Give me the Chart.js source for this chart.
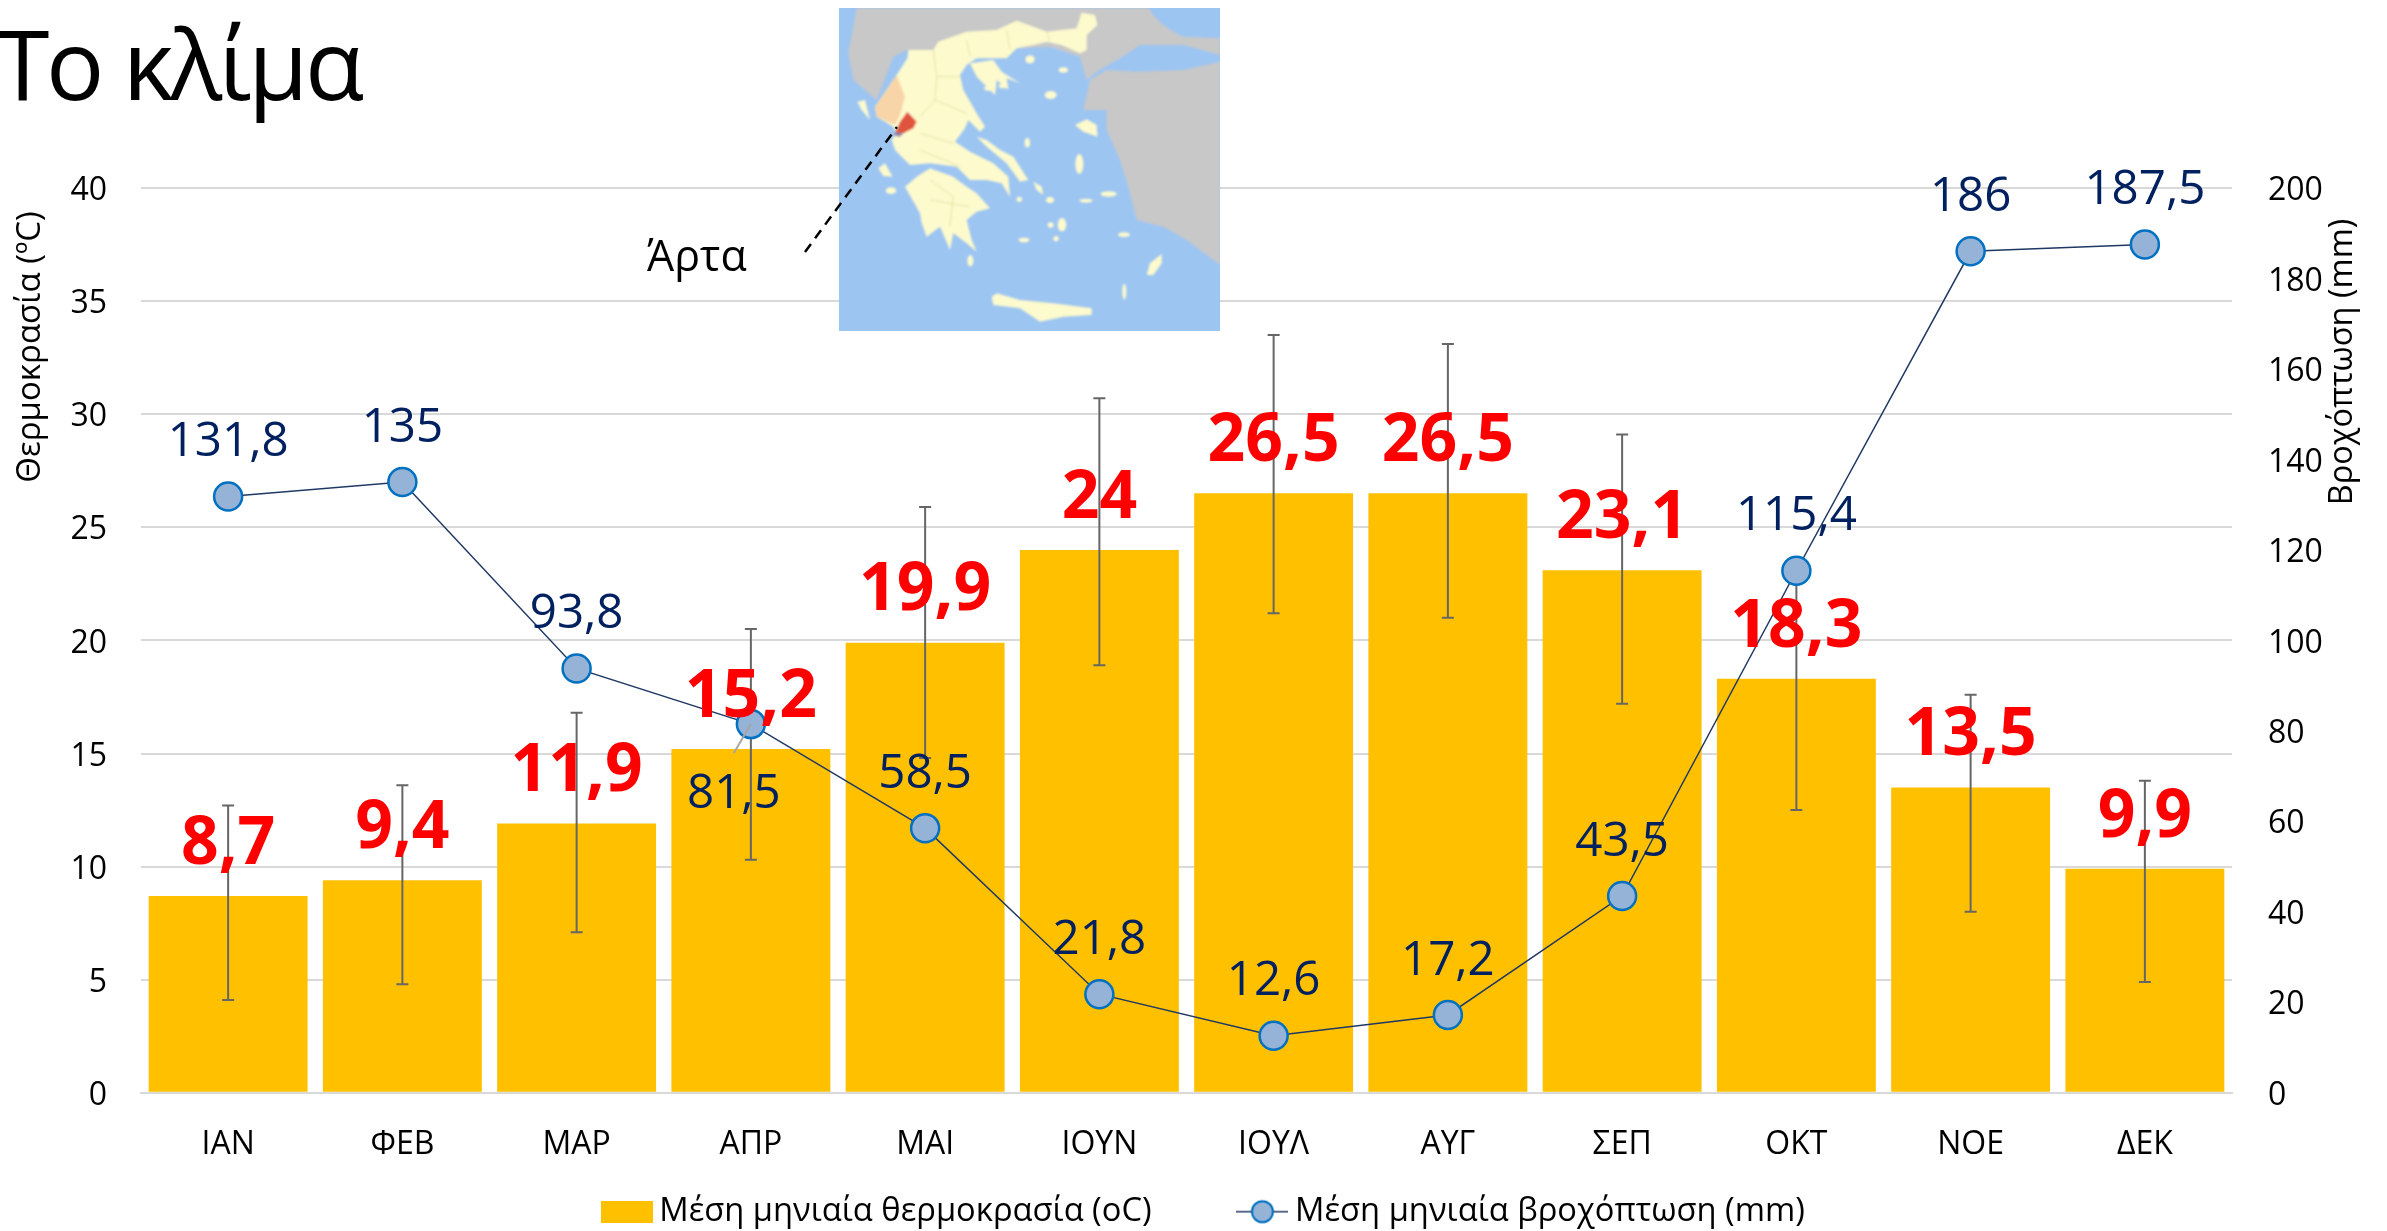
<!DOCTYPE html>
<html lang="el">
<head>
<meta charset="utf-8">
<title>Το κλίμα</title>
<script src="https://cdn.jsdelivr.net/npm/chart.js@4"></script>
<style>
    html, body { margin: 0; padding: 0; background: #fff; overflow: hidden; }
    #wrap { position: relative; width: 2387px; height: 1231px; font-family: "Open Sans", sans-serif; }
    #climate { position: absolute; left: 0; top: 0; }
    #title { position: absolute; left: -4px; top: -4px; font-size: 97px; font-weight: 400; letter-spacing: -3.4px; line-height: 133px; color: #000; }
    #place { position: absolute; left: 647px; top: 226px; font-size: 43px; line-height: 58px; color: #000; }
    #map { position: absolute; left: 839px; top: 8px; }
    #leader { position: absolute; left: 790px; top: 110px; }
</style>
</head>
<body>
<div id="wrap">
    <canvas id="climate" width="2387" height="1231"></canvas>
    <div id="title">Το κλίμα</div>
    <div id="place">Άρτα</div>

    <!-- Greece locator map, hand traced -->
    <svg id="map" width="381" height="323" viewBox="57 24 1143 969">
        <defs><filter id="soft"><feGaussianBlur stdDeviation="3"/></filter></defs>
        <rect x="57" y="24" width="1143" height="969" fill="#9DC5F2"/>
        <g filter="url(#soft)">
            <path fill="#C8C8C8" d="M110,24 L985,24 Q1020,80 1090,110 L1200,115 L1200,165 L1090,135 L960,135 L900,175 L830,215 L800,240 L780,170 L690,140 L500,150 L260,150 L220,170 L170,300 L100,240 L85,160 Z"/>
            <path fill="#C8C8C8" d="M1200,185 L1090,210 L950,215 L860,210 L810,240 L790,330 L860,330 L860,390 L900,480 L925,560 L950,660 L1030,680 L1100,720 L1200,795 Z"/>
            <path fill="#FDFACD" d="M165,320 L230,225 L262,175 L265,150 L340,150 L355,125 L440,95 L530,90 L590,62 L640,80 L680,95 L770,85 L785,38 L825,45 L832,75 L800,105 L800,150 L780,160 L725,135 L680,125 L640,135 L590,145 L560,175 L470,175 L440,195 L420,225 L430,270 L470,340 L495,380 L480,395 L445,360 L435,385 L405,425 L450,455 L520,490 L565,530 L570,590 L545,550 L500,540 L450,540 L410,500 L330,490 L270,495 L225,450 L215,420 L230,400 L220,380 L170,350 Z"/>
            <path fill="#FDFACD" d="M450,190 L520,180 L545,215 L600,250 L560,235 L565,270 L530,240 L525,285 L495,255 L470,230 Z"/>
            <path fill="#FDFACD" d="M470,410 L500,420 L540,450 L580,470 L625,540 L600,545 L560,490 L500,440 Z"/>
            <path fill="#FDFACD" d="M255,560 L290,530 L330,505 L400,530 L440,560 L470,580 L510,625 L470,635 L440,660 L455,720 L470,755 L440,730 L400,700 L390,750 L360,680 L320,710 L305,670 L300,640 Z"/>
            <path fill="#FDFACD" d="M515,890 L530,880 L600,900 L700,910 L815,925 L815,945 L730,950 L660,965 L600,925 L520,915 Z"/>
            <path fill="#FDFACD" d="M765,375 L800,358 L830,375 L832,410 L790,395 Z"/>
            <path fill="#FDFACD" d="M980,825 L990,790 L1025,762 L1025,790 L1000,825 Z"/>
            <path fill="#FDFACD" d="M112,305 L135,300 L150,360 L125,330 Z"/>
            <path fill="#FDFACD" d="M175,505 L195,490 L218,530 L190,528 Z"/>
            <path fill="#FDFACD" d="M640,545 L665,560 L670,585 L650,570 Z"/>
            <g fill="#FDFACD">
                <ellipse cx="630" cy="178" rx="14" ry="12"/>
                <ellipse cx="730" cy="210" rx="14" ry="8"/>
                <ellipse cx="692" cy="285" rx="18" ry="12"/>
                <ellipse cx="778" cy="492" rx="12" ry="30"/>
                <ellipse cx="213" cy="572" rx="16" ry="10"/>
                <ellipse cx="622" cy="428" rx="8" ry="14"/>
                <ellipse cx="798" cy="602" rx="20" ry="6"/>
                <ellipse cx="866" cy="582" rx="24" ry="8"/>
                <ellipse cx="726" cy="674" rx="13" ry="20"/>
                <ellipse cx="690" cy="600" rx="12" ry="9"/>
                <ellipse cx="692" cy="675" rx="9" ry="8"/>
                <ellipse cx="612" cy="720" rx="16" ry="7"/>
                <ellipse cx="708" cy="716" rx="8" ry="8"/>
                <ellipse cx="598" cy="598" rx="8" ry="8"/>
                <ellipse cx="912" cy="704" rx="18" ry="7"/>
                <ellipse cx="913" cy="875" rx="6" ry="24"/>
                <ellipse cx="451" cy="782" rx="9" ry="17"/>
                <ellipse cx="510" cy="265" rx="18" ry="8"/>
                <ellipse cx="550" cy="258" rx="14" ry="7"/>
            </g>
            <path fill="none" stroke="#E6E3A8" stroke-width="3" d="M340,150 L350,230 L345,300 L300,350 M350,230 L420,230 M345,300 L440,340 M300,400 L400,430 M300,450 L420,500 M440,120 L450,170 M560,90 L570,150 M680,95 L690,125 M330,540 L400,590 L390,680 M330,600 L450,620"/>
            <path fill="#F8D5A8" d="M230,225 L255,290 L240,345 L225,375 L170,350 L165,320 Z"/>
            <path fill="#E0533D" d="M262,335 L290,365 L280,385 L250,400 L225,400 L240,365 Z"/>
            <path fill="#8E86A8" d="M222,398 L252,398 L240,410 L226,408 Z"/>
        </g>
    </svg>
    <svg id="leader" width="130" height="160">
        <line x1="15" y1="142" x2="107" y2="17" stroke="#000" stroke-width="2.5" stroke-dasharray="10,7"/>
    </svg>
</div>

<script>
/*
 * Climate chart for Arta: mean monthly temperature (bars, left axis) and
 * mean monthly rainfall (line, right axis).
 */

const months = ["ΙΑΝ", "ΦΕΒ", "ΜΑΡ", "ΑΠΡ", "ΜΑΙ", "ΙΟΥΝ", "ΙΟΥΛ", "ΑΥΓ", "ΣΕΠ", "ΟΚΤ", "ΝΟΕ", "ΔΕΚ"];
const temperature = [8.7, 9.4, 11.9, 15.2, 19.9, 24, 26.5, 26.5, 23.1, 18.3, 13.5, 9.9];
const tempLow = [4.1, 4.8, 7.1, 10.3, 14.8, 18.9, 21.2, 21, 17.2, 12.5, 8, 4.9];
const tempHigh = [12.7, 13.6, 16.8, 20.5, 25.9, 30.7, 33.5, 33.1, 29.1, 23.4, 17.6, 13.8];
const rainfall = [131.8, 135, 93.8, 81.5, 58.5, 21.8, 12.6, 17.2, 43.5, 115.4, 186, 187.5];

const tempLabel = "Μέση μηνιαία θερμοκρασία (oC)";
const rainLabel = "Μέση μηνιαία βροχόπτωση (mm)";
const tempAxisTitle = "Θερμοκρασία (ºC)";
const rainAxisTitle = "Βροχόπτωση (mm)";

const fontName = '"Open Sans", sans-serif';

// Decimal comma, as in the original.
function formatValue(v) {
    return String(v).replace(".", ",");
}

// Legend swatches.
function barSwatch() {
    const c = document.createElement("canvas");
    c.width = 52; c.height = 22;
    const g = c.getContext("2d");
    g.fillStyle = "#FFC000";
    g.fillRect(0, 0, 52, 22);
    return c;
}

function lineSwatch() {
    const c = document.createElement("canvas");
    c.width = 52; c.height = 26;
    const g = c.getContext("2d");
    g.strokeStyle = "#5B6B8C";
    g.lineWidth = 2;
    g.beginPath(); g.moveTo(0, 13); g.lineTo(52, 13); g.stroke();
    g.fillStyle = "#95B3D7";
    g.strokeStyle = "#0070C0";
    g.beginPath(); g.arc(26, 13, 10.5, 0, Math.PI * 2); g.fill(); g.stroke();
    return c;
}

// Error bars sit above the columns and below the rainfall line.
const errorBars = {
    id: "errorBars",
    beforeDatasetDraw(chart, args) {
        if (args.index !== 1) return;
        const ctx = chart.ctx, x = chart.scales.x, y = chart.scales.y;
        ctx.save();
        ctx.strokeStyle = "#666666";
        ctx.lineWidth = 2;
        months.forEach(function (m, i) {
            const px = x.getPixelForValue(i);
            const top = y.getPixelForValue(tempHigh[i]);
            const bottom = y.getPixelForValue(tempLow[i]);
            ctx.beginPath();
            ctx.moveTo(px, top); ctx.lineTo(px, bottom);
            ctx.moveTo(px - 6, top); ctx.lineTo(px + 6, top);
            ctx.moveTo(px - 6, bottom); ctx.lineTo(px + 6, bottom);
            ctx.stroke();
        });
        ctx.restore();
    }
};

// Data labels and the two axis titles.
const valueLabels = {
    id: "valueLabels",
    afterDatasetsDraw(chart) {
        const ctx = chart.ctx, x = chart.scales.x, y = chart.scales.y, y2 = chart.scales.y2;
        ctx.save();
        ctx.textAlign = "center";
        ctx.textBaseline = "middle";

        // Leader line of the April rainfall label, which was moved below its point.
        const aprX = x.getPixelForValue(3), aprY = y2.getPixelForValue(rainfall[3]);
        ctx.strokeStyle = "#A6A6A6";
        ctx.lineWidth = 2;
        ctx.beginPath();
        ctx.moveTo(aprX, aprY);
        ctx.lineTo(aprX - 17, aprY + 29);
        ctx.stroke();

        ctx.font = "47.5px " + fontName;
        ctx.fillStyle = "#002060";
        rainfall.forEach(function (v, i) {
            const moved = i === 3;
            ctx.fillText(formatValue(v), x.getPixelForValue(i) - (moved ? 17 : 0), y2.getPixelForValue(v) + (moved ? 70 : -54));
        });

        ctx.font = "bold 66px " + fontName;
        ctx.fillStyle = "#FF0000";
        temperature.forEach(function (v, i) {
            ctx.fillText(formatValue(v), x.getPixelForValue(i), y.getPixelForValue(v) - 51);
        });

        ctx.fillStyle = "#000";
        ctx.font = "33px " + fontName;
        ctx.translate(31, 347);
        ctx.rotate(-Math.PI / 2);
        ctx.fillText(tempAxisTitle, 0, 0);
        ctx.rotate(Math.PI / 2);
        ctx.font = "32.5px " + fontName;
        ctx.translate(2343 - 31, 362 - 347);
        ctx.rotate(-Math.PI / 2);
        ctx.fillText(rainAxisTitle, 0, 0);
        ctx.restore();
    }
};

const ctx = document.getElementById("climate");

new Chart(ctx, {
    type: "bar",
    data: {
        labels: months,
        datasets: [{
            type: "bar",
            label: tempLabel,
            data: temperature,
            backgroundColor: "#FFC000",
            yAxisID: "y",
            barPercentage: 0.912,
            categoryPercentage: 1,
            order: 2
        }, {
            type: "line",
            label: rainLabel,
            data: rainfall,
            yAxisID: "y2",
            borderColor: "#1F3864",
            borderWidth: 1.5,
            tension: 0,
            pointRadius: 14,
            pointBorderWidth: 2.5,
            pointBackgroundColor: "#95B3D7",
            pointBorderColor: "#0070C0",
            order: 1
        }]
    },
    options: {
        responsive: false,
        animation: false,
        layout: { padding: { top: 188, bottom: -7, left: 28, right: 0 } },
        scales: {
            x: {
                grid: { display: false },
                border: { color: "#D9D9D9", width: 2 },
                ticks: { color: "#000", font: { family: fontName, size: 32 }, padding: 25, maxRotation: 0 },
                afterFit(scale) { scale.height = 101.5; }
            },
            y: {
                position: "left",
                min: 0,
                max: 40,
                grid: { color: "#D9D9D9", lineWidth: 2, drawTicks: false },
                border: { display: false },
                ticks: { stepSize: 5, color: "#000", font: { family: fontName, size: 32 }, padding: 34, labelOffset: 3 },
                afterFit(scale) { scale.width = 113; }
            },
            y2: {
                position: "right",
                min: 0,
                max: 200,
                grid: { display: false, drawTicks: false },
                border: { display: false },
                ticks: { stepSize: 20, color: "#000", font: { family: fontName, size: 32 }, padding: 36, labelOffset: 3 },
                afterFit(scale) { scale.width = 155; }
            }
        },
        plugins: {
            title: { display: false },
            tooltip: { enabled: false },
            legend: {
                display: true,
                position: "bottom",
                onClick: null,
                labels: {
                    usePointStyle: true,
                    boxWidth: 42,
                    boxHeight: 22,
                    padding: 1,
                    color: "#000",
                    font: { family: fontName, size: 32.7 },
                    generateLabels() {
                        // Trailing spaces open the gap between the two entries.
                        return [
                            { text: tempLabel + "           ", pointStyle: barSwatch(), datasetIndex: 0, lineWidth: 0 },
                            { text: rainLabel, pointStyle: lineSwatch(), datasetIndex: 1, lineWidth: 0 }
                        ];
                    }
                }
            }
        }
    },
    plugins: [errorBars, valueLabels]
});
</script>
</body>
</html>
